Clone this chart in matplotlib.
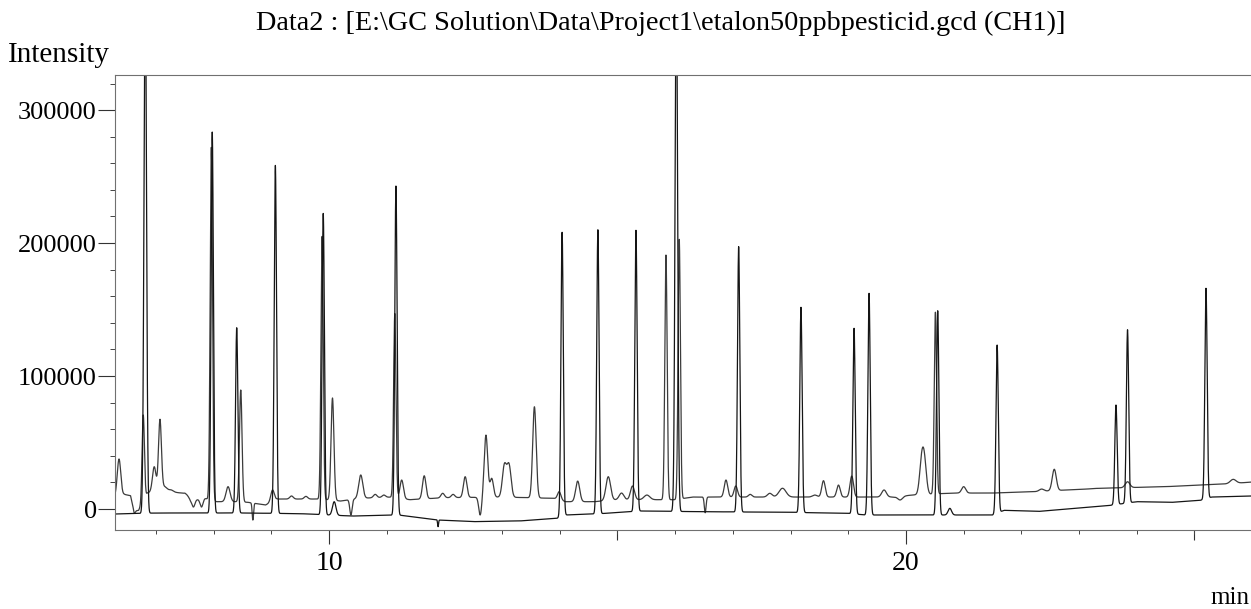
"""GC chromatogram overlay: etalon 50 ppb pesticide standard, CH1."""
import matplotlib
matplotlib.use("Agg")
import matplotlib.pyplot as plt
import matplotlib.ticker as mticker
import numpy as np

plt.rcParams["font.family"] = ["Liberation Serif", "DejaVu Serif"]

TITLE = r"Data2 : [E:\GC Solution\Data\Project1\etalon50ppbpesticid.gcd (CH1)]"

# trace A (upper baseline): retention time [min], apex intensity, peak sigma [min]
A_RT = [6.36, 6.63, 6.78, 6.97, 7.07, 7.16, 7.27, 7.44, 7.54, 7.65, 7.79, 7.96,
        8.25, 8.47, 8.68, 9.02, 9.35, 9.60, 9.88, 10.06, 10.38, 10.55, 10.80, 10.95,
        11.14, 11.26, 11.65, 11.97, 12.15, 12.36, 12.62, 12.72, 12.82, 13.04, 13.12,
        13.56, 13.99, 14.31, 14.84, 15.07, 15.26, 15.51, 15.84, 16.07, 16.52, 16.88,
        17.05, 17.30, 17.64, 17.86, 18.42, 18.57, 18.83, 19.06, 19.62, 19.90, 20.27,
        20.32, 20.51, 21.00, 22.35, 22.57, 23.13, 23.84, 25.67]
A_APEX = [37600, -3000, 70700, 31800, 67500, 16800, 14300, 12000, 10500, 1500, 1500, 272000,
          16800, 89500, -8300, 14300, 9800, 9500, 205000, 83500, -4500, 25600, 11000, 10500,
          147000, 21800, 25000, 11800, 11000, 24300, -4500, 55600, 23100, 34400, 34400,
          76900, 13000, 21000, 24300, 12000, 17300, 10500, 191000, 202800, -2800, 21800,
          17300, 11000, 11800, 15600, 10500, 21300, 18000, 24800, 14300, 6800, 42300,
          42300, 148000, 16800, 15000, 29900, 15000, 20500, 22300]
A_SIGMA = [0.03, 0.015, 0.02, 0.03, 0.025, 0.03, 0.03, 0.04, 0.04, 0.025, 0.025, 0.02,
           0.035, 0.022, 0.012, 0.03, 0.03, 0.03, 0.02, 0.025, 0.02, 0.035, 0.03, 0.03,
           0.02, 0.03, 0.03, 0.03, 0.03, 0.03, 0.025, 0.03, 0.03, 0.035, 0.035,
           0.03, 0.03, 0.035, 0.04, 0.04, 0.035, 0.05, 0.02, 0.02, 0.015, 0.03,
           0.03, 0.03, 0.04, 0.06, 0.04, 0.03, 0.03, 0.03, 0.04, 0.04, 0.035,
           0.035, 0.02, 0.035, 0.04, 0.035, 0.05, 0.04, 0.05]
A_BASE_T = [6.25, 6.45, 6.56, 6.62, 6.70, 6.85, 7.12, 7.30, 7.50, 7.60, 7.70, 7.85,
            8.05, 8.40, 8.60, 8.90, 9.10, 9.85, 10.20, 10.50, 11.10, 11.40, 12.00,
            13.00, 13.90, 14.10, 14.60, 15.00, 16.00, 16.30, 19.80, 20.10, 20.80,
            21.50, 22.20, 23.30, 24.50, 25.60, 26.00]
A_BASE_I = [9000, 11000, 10000, -1500, -1000, 12000, 16000, 13000, 11000, 6000, 7000, 8000,
            5500, 5500, 5000, 3000, 7500, 7500, 6000, 8000, 9000, 7000, 8500,
            9000, 8000, 5500, 5500, 7000, 7000, 9000, 9000, 10500, 12000,
            12000, 13000, 15500, 16800, 19000, 20300]

# trace B (lower baseline)
B_RT = [6.815, 7.976, 8.40, 9.07, 9.90, 10.09, 11.16, 11.89, 14.04, 14.66, 15.32,
        16.02, 17.10, 18.18, 19.10, 19.36, 20.55, 20.76, 21.58, 23.64, 23.84, 25.20]
B_APEX = [400000, 283500, 136300, 258400, 222300, 5500, 242900, -13300, 208100, 210000, 209600,
          400000, 197300, 151700, 135900, 162200, 149100, 500, 123300, 78200, 134800, 166000]
B_SIGMA = [0.022, 0.02, 0.02, 0.02, 0.02, 0.03, 0.02, 0.008, 0.02, 0.02, 0.02,
           0.022, 0.02, 0.02, 0.02, 0.02, 0.02, 0.03, 0.02, 0.02, 0.02, 0.02]
B_BASE_T = [6.25, 7.00, 8.50, 9.50, 10.40, 11.20, 11.90, 12.50, 13.30, 13.95, 14.10,
            14.70, 15.40, 16.40, 18.00, 19.00, 19.30, 21.50, 21.70, 22.30, 22.80, 23.50,
            24.00, 24.60, 25.10, 25.30, 26.00]
B_BASE_I = [-3800, -3000, -3000, -3500, -5300, -4500, -8300, -9500, -9000, -7000, -4500,
            -3500, -1500, -2000, -2500, -3300, -4500, -4500, -1000, -1800, 0, 2500,
            5500, 5000, 6500, 9000, 9800]


def build_trace(t, rt, apex, sigma, base_t, base_i):
    rt = np.asarray(rt, float)
    apex = np.asarray(apex, float)
    sigma = np.asarray(sigma, float)
    base = np.interp(t, base_t, base_i)
    # gaussian heights chosen so the curve passes through the read apex values
    g = np.exp(-0.5 * ((rt[:, None] - rt[None, :]) / sigma[None, :]) ** 2)
    heights = np.linalg.solve(g, apex - np.interp(rt, base_t, base_i))
    peaks = np.exp(-0.5 * ((t[:, None] - rt[None, :]) / sigma[None, :]) ** 2)
    return base + peaks @ heights


t = np.arange(6.2, 26.1, 0.002)
trace_a = build_trace(t, A_RT, A_APEX, A_SIGMA, A_BASE_T, A_BASE_I)
trace_b = build_trace(t, B_RT, B_APEX, B_SIGMA, B_BASE_T, B_BASE_I)

fig = plt.figure(figsize=(12.51, 6.09), dpi=100)
ax = fig.add_axes([0.0919, 0.1297, 0.9081, 0.7471])
ax.plot(t, trace_a, color="#3c3c3c", lw=0.9)
ax.plot(t, trace_b, color="#151515", lw=0.9)
ax.set_xlim(6.29, 25.98)
ax.set_ylim(-15800, 326400)

ax.set_xticks([10, 20])
ax.xaxis.set_minor_locator(mticker.MultipleLocator(1))
ax.set_yticks([0, 100000, 200000, 300000])
ax.yaxis.set_major_formatter(mticker.FuncFormatter(lambda v, p: f"{v:.0f}"))
ax.yaxis.set_minor_locator(mticker.MultipleLocator(20000))
ax.tick_params(axis="x", which="major", length=10, width=0.8, pad=5, labelsize=20, color="#333333")
ax.tick_params(axis="x", which="minor", length=3, width=0.7, color="#444444")
ax.tick_params(axis="y", which="major", length=12, width=0.8, pad=1, labelsize=19, color="#333333")
ax.tick_params(axis="y", which="minor", length=3.5, width=0.7, color="#444444")

sec = ax.secondary_xaxis("bottom")
sec.set_xticks([15, 25])
sec.tick_params(axis="x", which="major", length=7, width=0.8, labelbottom=False, color="#333333")
sec.xaxis.set_minor_locator(mticker.NullLocator())
sec.spines["bottom"].set_visible(False)

for side in ["top", "left", "bottom"]:
    ax.spines[side].set_color("#707070")
    ax.spines[side].set_linewidth(0.8)
ax.spines["right"].set_visible(False)

fig.text(0.528, 0.962, TITLE, ha="center", va="center", fontsize=20.3)
fig.text(0.0064, 0.9097, "Intensity", ha="left", va="center", fontsize=21)
fig.text(0.999, 0.018, "min", ha="right", va="center", fontsize=18)

fig.savefig("out.png", dpi=100)
